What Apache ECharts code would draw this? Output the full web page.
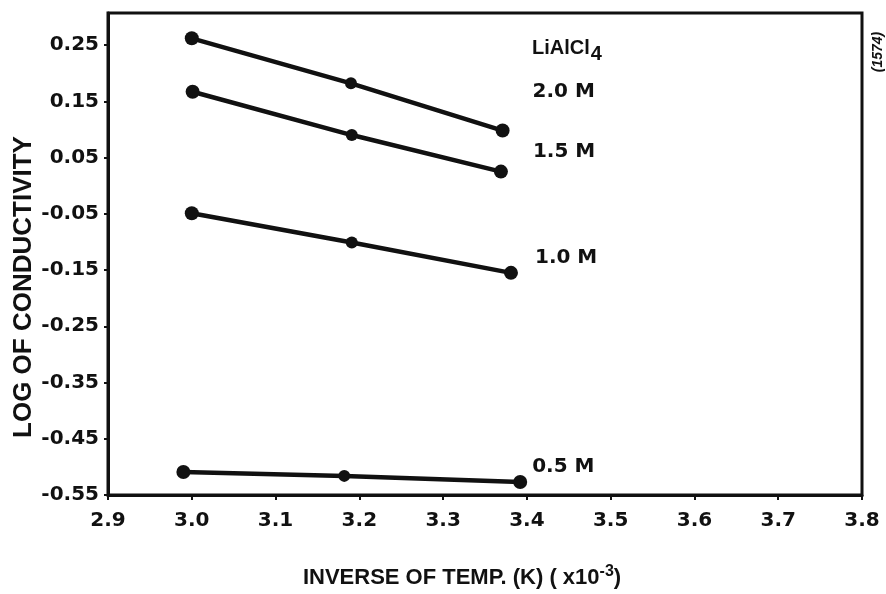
<!DOCTYPE html>
<html>
<head>
<meta charset="utf-8">
<script src="https://cdn.jsdelivr.net/npm/echarts@6/dist/echarts.min.js"></script>
<style>html,body{margin:0;padding:0;background:#fff}#c{width:886px;height:594px}</style>
</head>
<body>
<div id="c"></div>
<script>
// ---- data (x = inverse temperature x10^-3, y = log conductivity) ----
var seriesNames = ['2.0 M', '1.5 M', '1.0 M', '0.5 M'];
var x20 = [3.00, 3.19, 3.371];
var y20 = [0.262, 0.182, 0.098];
var x15 = [3.001, 3.191, 3.369];
var y15 = [0.167, 0.090, 0.025];
var x10 = [3.00, 3.191, 3.381];
var y10 = [-0.049, -0.101, -0.155];
var x05 = [2.99, 3.182, 3.392];
var y05 = [-0.509, -0.516, -0.527];
var yTicks = [-0.55, -0.45, -0.35, -0.25, -0.15, -0.05, 0.05, 0.15, 0.25];
var xTicks = [2.9, 3.0, 3.1, 3.2, 3.3, 3.4, 3.5, 3.6, 3.7, 3.8];

function pairs(xs, ys) { return xs.map(function (v, i) { return [v, ys[i]]; }); }

var FONT = '"DejaVu Sans", Verdana, sans-serif';
var FONT2 = '"Liberation Sans", Arial, sans-serif';
var INK = '#111';
var labelOffsets = [[25, -39], [27, -20], [19, -15], [7, -15]];
var allData = [pairs(x20, y20), pairs(x15, y15), pairs(x10, y10), pairs(x05, y05)];

var series = allData.map(function (d, k) {
  return {
    name: seriesNames[k],
    type: 'line',
    data: d,
    symbol: 'circle',
    symbolSize: function (v, p) { return p.dataIndex === 1 ? 12 : 14; },
    itemStyle: { color: INK },
    lineStyle: { color: INK, width: 4.5 },
    animation: false,
    endLabel: {
      show: true,
      formatter: seriesNames[k],
      color: INK,
      fontFamily: FONT,
      fontWeight: 'bold',
      fontSize: 20,
      distance: 5,
      offset: labelOffsets[k]
    }
  };
});

var chart = echarts.init(document.getElementById('c'), null, { renderer: 'canvas' });
chart.setOption({
  animation: false,
  backgroundColor: '#fff',
  grid: { left: 108, right: 24, top: 13, bottom: 99, show: true, borderColor: INK, borderWidth: 3, backgroundColor: 'transparent' },
  xAxis: {
    type: 'value', min: 2.9, max: 3.8, interval: 0.1,
    axisLine: { show: true, onZero: false, lineStyle: { color: INK, width: 3 } },
    axisTick: { show: true, inside: false, length: 5, lineStyle: { color: INK, width: 2 } },
    splitLine: { show: false },
    axisLabel: {
      color: INK, fontFamily: FONT, fontWeight: 'bold', fontSize: 20, margin: 16,
      customValues: xTicks,
      formatter: function (v) { return v.toFixed(1); }
    }
  },
  yAxis: {
    type: 'value', min: -0.55, max: 0.307,
    axisLine: { show: true, onZero: false, lineStyle: { color: INK, width: 3 } },
    axisTick: { show: true, length: 4, customValues: yTicks, lineStyle: { color: INK, width: 2 } },
    splitLine: { show: false },
    axisLabel: {
      color: INK, fontFamily: FONT, fontWeight: 'bold', fontSize: 20, margin: 9,
      customValues: yTicks,
      formatter: function (v) { return v.toFixed(2); }
    }
  },
  graphic: [
    { type: 'text', x: 24, y: 287, rotation: Math.PI / 2,
      style: { text: 'LOG OF CONDUCTIVITY', fill: INK, font: 'bold 26px ' + FONT2, align: 'center', verticalAlign: 'middle' } },
    { type: 'text', x: 462, y: 578,
      style: {
        text: 'INVERSE OF TEMP. (K) ( x10{sup|-3})', fill: INK, font: 'bold 22px ' + FONT2,
        align: 'center', verticalAlign: 'middle',
        rich: { sup: { fontSize: 16, fontWeight: 'bold', fontFamily: FONT2, verticalAlign: 'top', padding: [0, 0, 12, 0], fill: INK } }
      } },
    { type: 'text', x: 532, y: 48,
      style: {
        text: 'LiAlCl{sub|4}', fill: INK, font: 'bold 20px ' + FONT2, align: 'left', verticalAlign: 'middle',
        rich: { sub: { fontSize: 20, fontWeight: 'bold', fontFamily: FONT2, padding: [12, 0, 0, 1], fill: INK } }
      } },
    { type: 'text', x: 878, y: 52, rotation: Math.PI / 2,
      style: { text: '(1574)', fill: INK, font: 'italic bold 14px ' + FONT2, align: 'center', verticalAlign: 'middle' } }
  ],
  series: series
});
</script>
</body>
</html>
